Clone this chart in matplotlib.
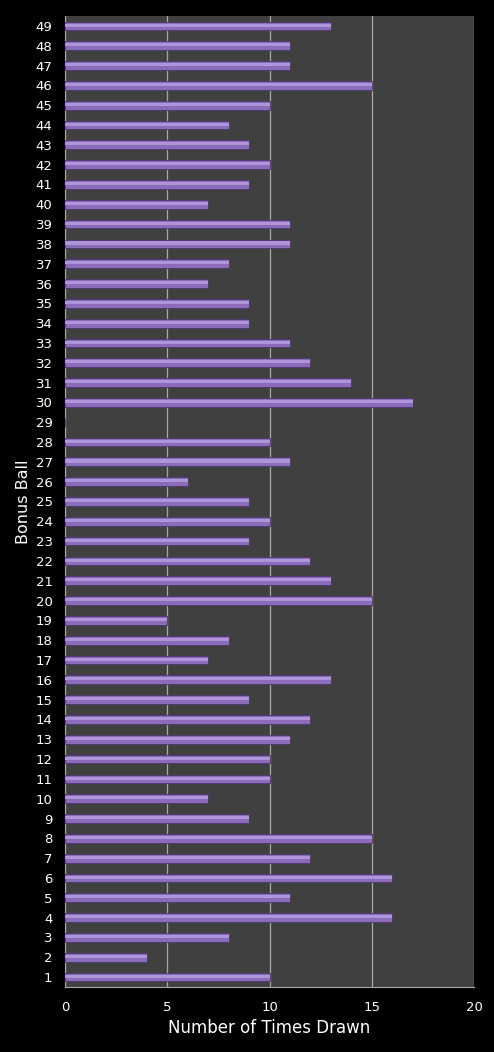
import matplotlib
matplotlib.use("Agg")
import matplotlib.pyplot as plt
import numpy as np

balls = list(range(1, 50))
times_drawn = [10, 4, 8, 16, 11, 16, 12, 15, 9, 7,
               10, 10, 11, 12, 9, 13, 7, 8, 5, 15,
               13, 12, 9, 10, 9, 6, 11, 10, 0, 17,
               14, 12, 11, 9, 9, 7, 8, 11, 11, 7,
               9, 10, 9, 8, 10, 15, 11, 11, 13]

fig = plt.figure(figsize=(4.94, 10.52), dpi=100, facecolor="black")
ax = fig.add_axes([0.1316, 0.0618, 0.8279, 0.923])
ax.set_facecolor("#404040")

h = 0.44
# main bar (darker lower part) and lighter top highlight for the 3d look
ax.barh(balls, times_drawn, height=h, color="#8a6cba", edgecolor="#4e3470",
        linewidth=0.6, zorder=3)
ax.barh(np.array(balls) + h * 0.1, times_drawn, height=h * 0.35,
        color="#ae94d8", linewidth=0, zorder=4)

ax.set_xlim(0, 20)
ax.set_ylim(0.5, 49.5)
ax.set_xticks([0, 5, 10, 15, 20])
ax.set_yticks(balls)
ax.grid(axis="x", color="#a8a8a8", linewidth=0.9, zorder=1)
ax.grid(axis="y", visible=False)

for s in ["top", "right"]:
    ax.spines[s].set_visible(False)
for s in ["left", "bottom"]:
    ax.spines[s].set_color("#a8a8a8")

ax.tick_params(colors="white", labelsize=9.5, length=0)
ax.tick_params(axis="x", pad=10)
ax.tick_params(axis="y", pad=9)
ax.set_xlabel("Number of Times Drawn", color="white", fontsize=12, labelpad=4)
ax.set_ylabel("Bonus Ball", color="white", fontsize=11.5, labelpad=3)

fig.savefig("out.png", dpi=100, facecolor="black")
